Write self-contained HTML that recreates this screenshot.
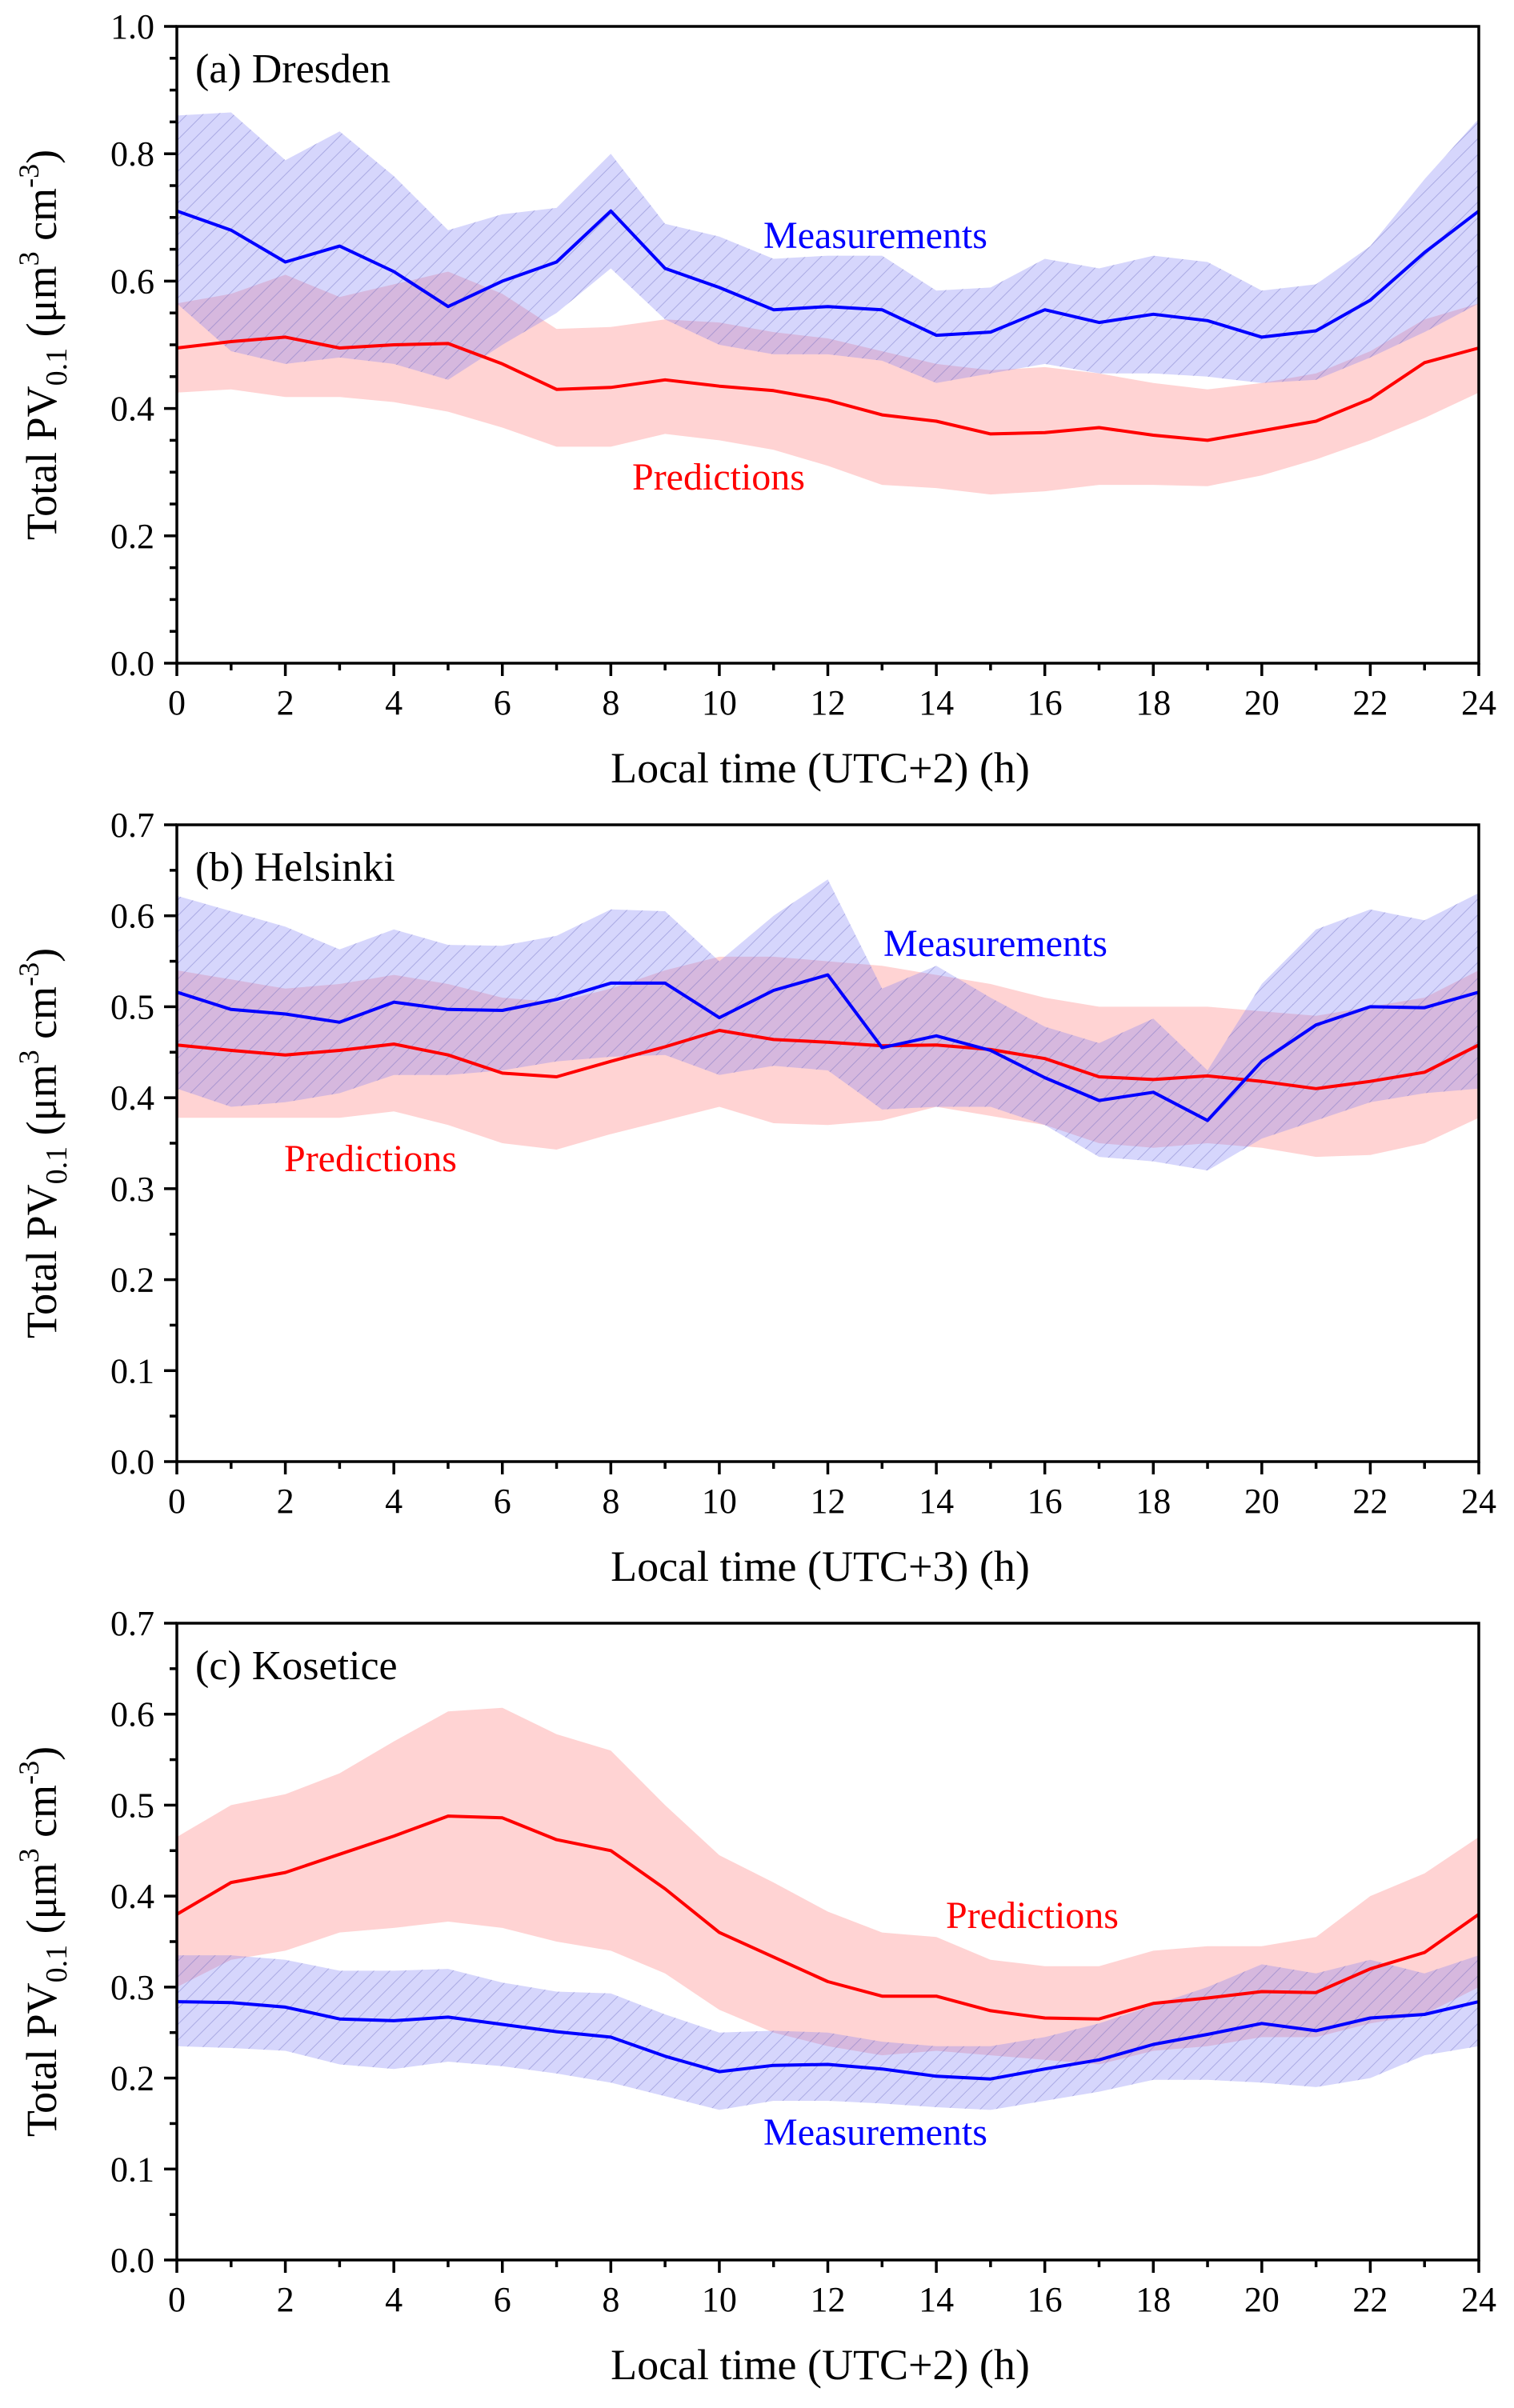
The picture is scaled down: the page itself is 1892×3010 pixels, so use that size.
<!DOCTYPE html>
<html><head><meta charset="utf-8"><style>
body{margin:0;background:#fff}
svg{display:block;font-family:"Liberation Serif","DejaVu Serif",serif}
text{font-family:"Liberation Serif","DejaVu Serif",serif;fill:#000}
</style></head><body>
<svg id="fig" width="1892" height="3010" xmlns="http://www.w3.org/2000/svg" font-family="Liberation Serif, serif">
<defs>
<pattern id="hatch" patternUnits="userSpaceOnUse" width="14" height="14" patternTransform="rotate(45)">
<rect width="14" height="14" fill="rgba(130,130,245,0.33)"/>
<line x1="0" y1="0" x2="0" y2="14" stroke="rgba(90,90,180,0.35)" stroke-width="2"/>
</pattern>
</defs>
</svg>
<script>
const hours=[0,1,2,3,4,5,6,7,8,9,10,11,12,13,14,15,16,17,18,19,20,21,22,23,24];
const aMeas=[0.71,0.68,0.63,0.655,0.615,0.56,0.60,0.63,0.71,0.62,0.59,0.555,0.56,0.555,0.515,0.52,0.555,0.535,0.548,0.538,0.512,0.522,0.57,0.645,0.71];
const aMeasHi=[0.86,0.865,0.79,0.835,0.765,0.68,0.705,0.715,0.80,0.69,0.67,0.635,0.64,0.64,0.585,0.59,0.635,0.62,0.64,0.63,0.585,0.595,0.655,0.76,0.855];
const aMeasLo=[0.565,0.49,0.47,0.48,0.47,0.445,0.5,0.55,0.62,0.54,0.5,0.485,0.485,0.475,0.44,0.455,0.47,0.455,0.455,0.45,0.44,0.445,0.48,0.52,0.565];
const aPred=[0.495,0.505,0.512,0.495,0.5,0.502,0.47,0.43,0.433,0.445,0.435,0.428,0.413,0.39,0.38,0.36,0.362,0.37,0.358,0.35,0.365,0.38,0.415,0.472,0.495];
const aPredHi=[0.565,0.58,0.61,0.575,0.595,0.615,0.58,0.525,0.528,0.54,0.535,0.52,0.51,0.49,0.47,0.46,0.465,0.455,0.44,0.43,0.44,0.455,0.49,0.54,0.565];
const aPredLo=[0.425,0.43,0.418,0.418,0.41,0.395,0.37,0.34,0.34,0.36,0.35,0.335,0.31,0.28,0.275,0.265,0.27,0.28,0.28,0.278,0.295,0.32,0.35,0.385,0.425];
const bMeas=[0.516,0.497,0.492,0.483,0.505,0.497,0.496,0.508,0.526,0.526,0.488,0.518,0.535,0.455,0.468,0.452,0.422,0.397,0.406,0.375,0.44,0.48,0.5,0.499,0.516];
const bMeasHi=[0.622,0.605,0.588,0.563,0.585,0.568,0.567,0.578,0.607,0.605,0.55,0.6,0.64,0.52,0.545,0.51,0.478,0.46,0.487,0.43,0.525,0.585,0.607,0.595,0.625];
const bMeasLo=[0.41,0.39,0.395,0.405,0.425,0.425,0.43,0.44,0.445,0.447,0.425,0.435,0.43,0.387,0.39,0.39,0.37,0.335,0.33,0.32,0.355,0.375,0.395,0.405,0.41];
const bPred=[0.458,0.452,0.447,0.452,0.459,0.447,0.427,0.423,0.44,0.456,0.474,0.464,0.461,0.457,0.458,0.453,0.443,0.423,0.42,0.424,0.418,0.41,0.418,0.428,0.458];
const bPredHi=[0.54,0.53,0.52,0.525,0.535,0.525,0.51,0.505,0.52,0.54,0.555,0.555,0.55,0.545,0.535,0.525,0.51,0.5,0.5,0.5,0.495,0.49,0.5,0.51,0.54];
const bPredLo=[0.378,0.378,0.378,0.378,0.385,0.37,0.35,0.343,0.36,0.375,0.39,0.372,0.37,0.375,0.39,0.38,0.37,0.35,0.345,0.35,0.345,0.335,0.337,0.35,0.378];
const cPred=[0.38,0.415,0.426,0.446,0.466,0.488,0.486,0.462,0.45,0.408,0.36,0.333,0.306,0.29,0.29,0.274,0.266,0.265,0.282,0.288,0.295,0.294,0.32,0.338,0.38];
const cPredHi=[0.465,0.5,0.512,0.535,0.57,0.603,0.607,0.578,0.56,0.5,0.445,0.415,0.383,0.36,0.355,0.33,0.323,0.323,0.34,0.345,0.345,0.355,0.4,0.425,0.465];
const cPredLo=[0.3,0.33,0.34,0.36,0.365,0.372,0.365,0.35,0.34,0.315,0.275,0.25,0.235,0.225,0.23,0.225,0.22,0.215,0.23,0.235,0.245,0.245,0.26,0.27,0.3];
const cMeas=[0.284,0.283,0.278,0.265,0.263,0.267,0.259,0.251,0.245,0.224,0.207,0.214,0.215,0.21,0.202,0.199,0.21,0.22,0.237,0.248,0.26,0.252,0.266,0.27,0.284];
const cMeasHi=[0.335,0.335,0.33,0.318,0.318,0.32,0.305,0.295,0.293,0.27,0.25,0.252,0.25,0.24,0.235,0.235,0.245,0.26,0.28,0.3,0.325,0.315,0.33,0.315,0.335];
const cMeasLo=[0.235,0.233,0.23,0.215,0.21,0.218,0.213,0.205,0.195,0.18,0.165,0.175,0.175,0.172,0.168,0.165,0.175,0.185,0.198,0.198,0.195,0.19,0.2,0.225,0.235];
const xTicks=[0,2,4,6,8,10,12,14,16,18,20,22,24];
const aYTicks=[0,0.2,0.4,0.6,0.8,1.0];
const bYTicks=[0,0.1,0.2,0.3,0.4,0.5,0.6,0.7];

const NS="http://www.w3.org/2000/svg";
const svg=document.getElementById('fig');
const FF='"Liberation Serif", serif';
function mk(tag,attrs,parent){const e=document.createElementNS(NS,tag);for(const k in attrs)e.setAttribute(k,attrs[k]);if(tag==='text')e.setAttribute('font-family',FF);(parent||svg).appendChild(e);return e;}

const L=221,R=1848,H=796;
function panel(cfg){
  const g=mk('g',{});
  
  
  const T=cfg.top,B=T+H;
  const xs=h=>L+(h-0)/24*(R-L);
  const ys=v=>B-(v/cfg.ymax)*H;
  function band(hi,lo,fill,nm){
    let d='';
    hours.forEach((h,i)=>{d+=(i?'L':'M')+xs(h).toFixed(1)+','+ys(hi[i]).toFixed(1);});
    for(let i=hours.length-1;i>=0;i--)d+='L'+xs(hours[i]).toFixed(1)+','+ys(lo[i]).toFixed(1);
    const p=mk('path',{d:d+'Z',fill:fill,stroke:'none'},g);
    
    
  }
  function line(v,col,nm){
    const pts=hours.map((h,i)=>xs(h).toFixed(1)+','+ys(v[i]).toFixed(1)).join(' ');
    const p=mk('polyline',{points:pts,fill:'none',stroke:col,'stroke-width':4,'stroke-linejoin':'round'},g);
    
    
  }
  band(cfg.pHi,cfg.pLo,'rgba(255,140,140,0.38)','predictions-band');
  band(cfg.mHi,cfg.mLo,'url(#hatch)','measurements-band');
  line(cfg.pred,'#ff0000','predictions-line');
  line(cfg.meas,'#0000ff','measurements-line');
  const fr=mk('rect',{x:L,y:T,width:R-L,height:H,fill:'none',stroke:'#000','stroke-width':3.5},g);
  
  
  for(let h=0;h<=24;h++){
    const major=h%2===0;
    mk('line',{x1:xs(h),x2:xs(h),y1:B,y2:B+(major?16:9),stroke:'#000','stroke-width':3.5},g);
  }
  xTicks.forEach(t=>{
    const tx=mk('text',{x:xs(t),y:B+64,'text-anchor':'middle','font-size':44},g);
    tx.textContent=t;
    
    
  });
  const nMinor=Math.round(cfg.ymax/0.05);
  for(let i=0;i<=nMinor;i++){
    const v=i*0.05;
    const major=cfg.yt.some(t=>Math.abs(t-v)<1e-6);
    mk('line',{x1:L,x2:L-(major?16:9),y1:ys(v),y2:ys(v),stroke:'#000','stroke-width':3.5},g);
  }
  cfg.yt.forEach(t=>{
    const tx=mk('text',{x:L-28,y:ys(t)+15,'text-anchor':'end','font-size':44},g);
    tx.textContent=t.toFixed(1);
    
    
  });
  const pl=mk('text',{x:244,y:T+70,'font-size':52},g);
  pl.textContent=cfg.label;
  
  
  const xt=mk('text',{x:1025,y:B+149,'text-anchor':'middle','font-size':54},g);
  xt.textContent=cfg.xtitle;
  
  
  const yt=mk('text',{x:0,y:0,'text-anchor':'middle','font-size':54,transform:'translate(70,'+(T+H/2)+') rotate(-90)'},g);
  yt.innerHTML='Total PV<tspan font-size="38" dy="13">0.1</tspan><tspan dy="-13"> (μm</tspan><tspan font-size="36" dy="-22">3</tspan><tspan dy="22"> cm</tspan><tspan font-size="36" dy="-22">-3</tspan><tspan dy="22">)</tspan>';
  
  
  const ma=mk('text',{x:cfg.mPos[0],y:cfg.mPos[1],'text-anchor':'middle','font-size':48,style:'fill:#0000ff'},g);
  ma.textContent='Measurements';
  
  
  const pa=mk('text',{x:cfg.pPos[0],y:cfg.pPos[1],'text-anchor':'middle','font-size':48,style:'fill:#ff0000'},g);
  pa.textContent='Predictions';
  
  
}
panel({name:'panel-dresden',top:33,ymax:1.0,yt:aYTicks,label:'(a) Dresden',xtitle:'Local time (UTC+2) (h)',
  meas:aMeas,mHi:aMeasHi,mLo:aMeasLo,pred:aPred,pHi:aPredHi,pLo:aPredLo,mPos:[1094,310],pPos:[898,612]});
panel({name:'panel-helsinki',top:1031,ymax:0.7,yt:bYTicks,label:'(b) Helsinki',xtitle:'Local time (UTC+3) (h)',
  meas:bMeas,mHi:bMeasHi,mLo:bMeasLo,pred:bPred,pHi:bPredHi,pLo:bPredLo,mPos:[1244,1195],pPos:[463,1464]});
panel({name:'panel-kosetice',top:2029,ymax:0.7,yt:bYTicks,label:'(c) Kosetice',xtitle:'Local time (UTC+2) (h)',
  meas:cMeas,mHi:cMeasHi,mLo:cMeasLo,pred:cPred,pHi:cPredHi,pLo:cPredLo,mPos:[1094,2681],pPos:[1290,2410]});
</script>
</body></html>
